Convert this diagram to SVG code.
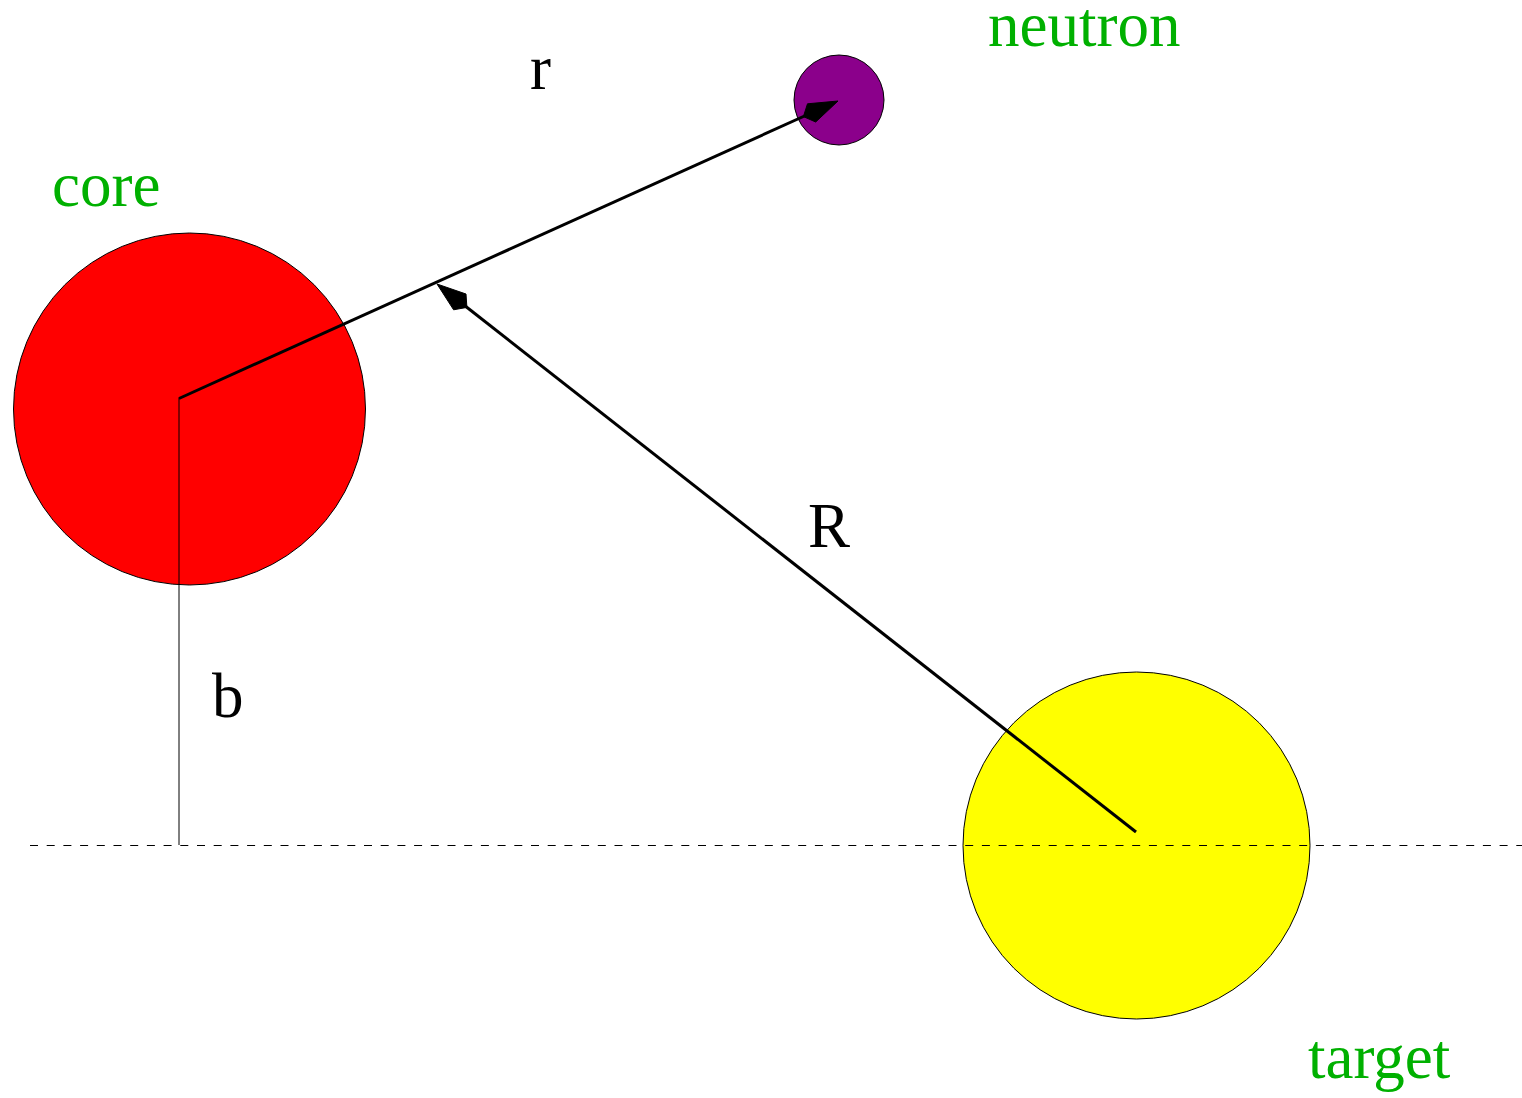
<svg xmlns="http://www.w3.org/2000/svg" width="1522" height="1098" viewBox="0 0 1522 1098">
<style>
.lbl{font-family:"Liberation Serif","Times New Roman",serif;font-size:63px}
.g{fill:#00b000}
.k{fill:#000}
.vec{stroke:#000;stroke-width:3;fill:none}
.ah{fill:#000;stroke:#000;stroke-width:1}
</style>
<rect width="1522" height="1098" fill="#fff"/>
<g id="core">
<circle cx="189.5" cy="409" r="176" fill="#ff0000" stroke="#000" stroke-width="1"/>
<text class="lbl g" x="52" y="206">core</text>
</g>
<g id="neutron">
<circle cx="839" cy="100" r="45" fill="#8b008b" stroke="#000" stroke-width="1"/>
<text class="lbl g" x="988" y="46">neutron</text>
</g>
<g id="target">
<circle cx="1136.5" cy="845.5" r="173.5" fill="#ffff00" stroke="#000" stroke-width="1"/>
<text class="lbl g" x="1308" y="1078">target</text>
</g>
<g id="connectors">
<line x1="30" y1="845.5" x2="1522" y2="845.5" stroke="#000" stroke-width="1" stroke-dasharray="8 8.7"/>
<line x1="179" y1="398" x2="179" y2="845" stroke="#000" stroke-width="1"/>
<line class="vec" x1="179" y1="398.5" x2="810" y2="113.5"/>
<polygon class="ah" points="838,101 815.7,122 803.4,116.6 807.5,103.8"/>
<line class="vec" x1="1136" y1="832" x2="462" y2="303.5"/>
<polygon class="ah" points="437,284 466,294 466.9,307.4 453.6,309.8"/>
</g>
<g id="labels">
<text class="lbl k" x="530" y="89">r</text>
<text class="lbl k" x="808" y="547">R</text>
<text class="lbl k" x="212" y="717">b</text>
</g>
</svg>
